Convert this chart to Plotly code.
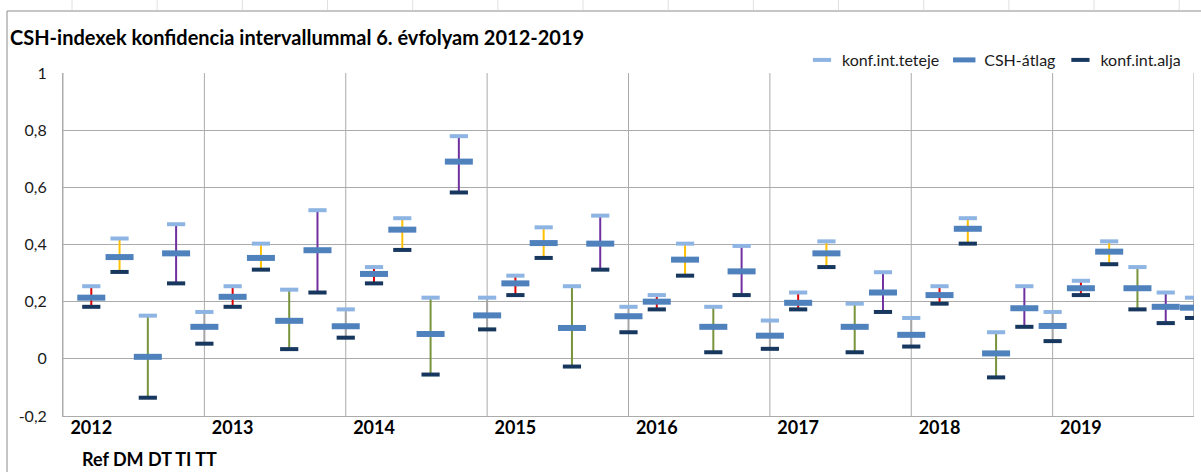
import plotly.graph_objects as go

# ---------------- data ----------------
years = ["2012", "2013", "2014", "2015", "2016", "2017", "2018", "2019"]
categories = ["Ref", "DM", "DT", "TI", "TT"]

# order inside each year: Ref, DM, DT, TI, TT
csh_atlag = [
    0.214, 0.356, 0.007, 0.369, 0.112,
    0.217, 0.353, 0.133, 0.380, 0.114,
    0.297, 0.452, 0.087, 0.690, 0.152,
    0.264, 0.405, 0.108, 0.403, 0.149,
    0.200, 0.347, 0.112, 0.306, 0.081,
    0.196, 0.369, 0.112, 0.232, 0.084,
    0.223, 0.455, 0.019, 0.177, 0.115,
    0.247, 0.375, 0.247, 0.182, 0.179,
]
konf_teteje = [
    0.254, 0.421, 0.151, 0.471, 0.164,
    0.254, 0.403, 0.242, 0.520, 0.173,
    0.321, 0.492, 0.214, 0.779, 0.214,
    0.291, 0.460, 0.254, 0.501, 0.182,
    0.223, 0.403, 0.182, 0.395, 0.134,
    0.232, 0.411, 0.193, 0.303, 0.143,
    0.254, 0.492, 0.093, 0.254, 0.164,
    0.273, 0.411, 0.321, 0.232, 0.214,
]
konf_alja = [
    0.182, 0.304, -0.136, 0.264, 0.053,
    0.182, 0.312, 0.034, 0.232, 0.074,
    0.264, 0.381, -0.055, 0.582, 0.103,
    0.223, 0.353, -0.027, 0.312, 0.093,
    0.173, 0.291, 0.023, 0.223, 0.035,
    0.173, 0.321, 0.023, 0.164, 0.043,
    0.193, 0.403, -0.065, 0.112, 0.062,
    0.223, 0.331, 0.173, 0.125, 0.143,
]
y_ticks = [-0.2, 0, 0.2, 0.4, 0.6, 0.8, 1]
y_ticktext = ["-0,2", "0", "0,2", "0,4", "0,6", "0,8", "1"]

# ---------------- styles ----------------
cat_colors = {"Ref": "#E00000", "DM": "#FFC000", "DT": "#77933C", "TI": "#7030A0", "TT": "#A6A6A6"}
col_top = "#8DB4E2"
col_mean = "#4F81BD"
col_bot = "#17375E"
grid_col = "#ABABAB"
FONT = "Lato"

W, H = 1201, 472
ML, MR, MT, MB = 63, 7, 73, 56
PW, PH = W - ML - MR, H - MT - MB

def px_x(px):
    return (px - ML) / PW

def px_y(py):
    return (H - MB - py) / PH

ncat = len(categories)
xpos = [yi * ncat + ci + 1 for yi in range(len(years)) for ci in range(ncat)]

fig = go.Figure()

# vertical confidence lines, one trace per category
for ci, cat in enumerate(categories):
    xs, ys = [], []
    for yi in range(len(years)):
        i = yi * ncat + ci
        xs += [xpos[i], xpos[i], None]
        ys += [konf_alja[i], konf_teteje[i], None]
    fig.add_trace(go.Scatter(x=xs, y=ys, mode="lines", showlegend=False,
                             line=dict(color=cat_colors[cat], width=2),
                             hoverinfo="skip", name=cat))

fig.add_trace(go.Scatter(x=xpos, y=konf_teteje, mode="markers", name="konf.int.teteje",
                         marker=dict(symbol="line-ew", size=13, color=col_top,
                                     line=dict(width=4, color=col_top))))
fig.add_trace(go.Scatter(x=xpos, y=csh_atlag, mode="markers", name="CSH-átlag",
                         marker=dict(symbol="line-ew", size=20, color=col_mean,
                                     line=dict(width=6, color=col_mean))))
fig.add_trace(go.Scatter(x=xpos, y=konf_alja, mode="markers", name="konf.int.alja",
                         marker=dict(symbol="line-ew", size=13, color=col_bot,
                                     line=dict(width=4, color=col_bot))))

shapes = []
# vertical gridlines at year boundaries
for k in range(0, len(years) * ncat + 1, ncat):
    shapes.append(dict(type="line", xref="x", yref="paper", x0=k, x1=k, y0=0, y1=1,
                       line=dict(color=grid_col, width=1), layer="below"))
# chart border (top & left)
shapes.append(dict(type="line", xref="paper", yref="paper", x0=px_x(7), x1=px_x(W + 5),
                   y0=px_y(11), y1=px_y(11), line=dict(color="#8C8C8C", width=1)))
shapes.append(dict(type="line", xref="paper", yref="paper", x0=px_x(7), x1=px_x(7),
                   y0=px_y(11), y1=px_y(H + 5), line=dict(color="#8C8C8C", width=1)))
# faint spreadsheet cell lines above chart
for i in range(14):
    cx = 72 + 85.17 * i
    shapes.append(dict(type="line", xref="paper", yref="paper", x0=px_x(cx), x1=px_x(cx),
                       y0=px_y(0), y1=px_y(10), line=dict(color="#E0E0E0", width=1)))

annotations = [
    dict(text="<b>Ref DM DT TI TT</b>", xref="paper", yref="paper",
         x=px_x(80), y=px_y(459), xanchor="left", yanchor="middle", showarrow=False,
         font=dict(family=FONT, size=18, color="#000000")),
]

fig.update_layout(
    width=W, height=H,
    margin=dict(l=ML, r=MR, t=MT, b=MB),
    paper_bgcolor="white", plot_bgcolor="white",
    separators=", ",
    font=dict(family=FONT, size=15, color="#1A1A1A"),
    title=dict(text="<b>CSH-indexek konfidencia intervallummal 6. évfolyam 2012-2019</b>",
               x=10 / W, xref="container", xanchor="left",
               y=1 - 38 / H, yref="container", yanchor="middle",
               font=dict(family=FONT, size=20, color="#000000")),
    xaxis=dict(range=[0, len(years) * ncat], tickmode="array",
               tickvals=[yi * ncat + 1 for yi in range(len(years))], ticktext=years,
               tickfont=dict(family=FONT, size=18, color="#000000", weight="bold"),
               showgrid=False, zeroline=False, showline=True, linecolor=grid_col,
               linewidth=1, ticks="", ticklabelstandoff=-5, fixedrange=True),
    yaxis=dict(range=[-0.2, 1], tickmode="array", tickvals=y_ticks, ticktext=y_ticktext,
               showgrid=True, gridcolor=grid_col, gridwidth=1,
               zeroline=False, showline=True, linecolor=grid_col, linewidth=1,
               ticks="", ticklabelstandoff=12,
               tickfont=dict(family=FONT, size=16, color="#1A1A1A")),
    legend=dict(orientation="h", xanchor="right", x=px_x(1186), yanchor="middle",
                y=px_y(60), font=dict(family=FONT, size=16, color="#1A1A1A"),
                bgcolor="rgba(0,0,0,0)", itemwidth=30, tracegroupgap=0),
    shapes=shapes,
    annotations=annotations,
)

fig.write_html("out.html",
               config={"displayModeBar": False},
               post_script="document.body.style.margin='0px';document.body.style.overflow='hidden';")
